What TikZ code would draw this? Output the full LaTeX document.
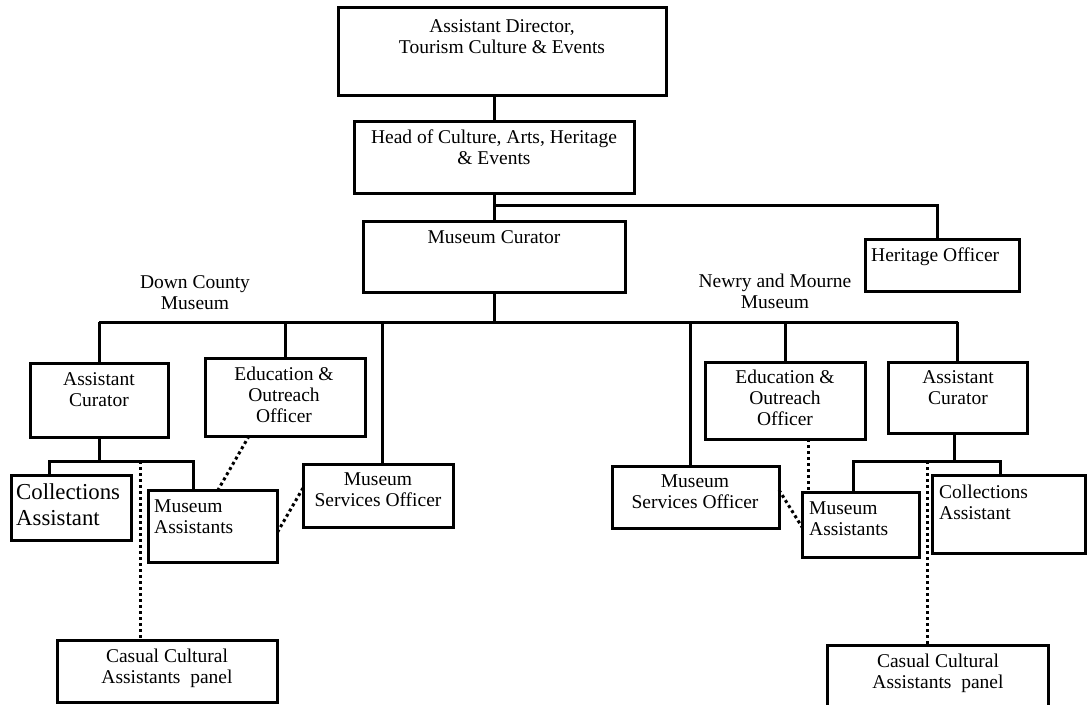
\documentclass[tikz,border=0pt]{standalone}
\usepackage{fontspec}
\setmainfont{Liberation Serif}
\newcommand{\fl}{\rule{0pt}{15pt}}
\newcommand{\flbig}{\rule{0pt}{18pt}}
\begin{document}
\begin{tikzpicture}[x=1pt,y=-1pt,
  box/.style={draw, line width=3pt, inner sep=0pt, outer sep=0pt, anchor=north west},
  conn/.style={line width=3pt},
  dots/.style={line width=3pt, dash pattern=on 3pt off 3pt},
  txt/.style={inner sep=0pt, font=\fontsize{19.5}{21}\selectfont, align=center, anchor=north},
  txtl/.style={inner sep=0pt, font=\fontsize{19.5}{21}\selectfont, align=left, anchor=north west},
  txtbig/.style={inner sep=0pt, font=\fontsize{22.8}{26}\selectfont, align=left, anchor=north west}]
\useasboundingbox (0,0) rectangle (1089,704);
% boxes
\node[box, minimum width=328pt, minimum height=88pt] (top) at (338,7) {};
\node[box, minimum width=280pt, minimum height=72pt] (head) at (354,121) {};
\node[box, minimum width=262pt, minimum height=71pt] (mc) at (363,221) {};
\node[box, minimum width=154pt, minimum height=52pt] (her) at (865,239) {};
\node[box, minimum width=138pt, minimum height=74pt] (acL) at (30,363) {};
\node[box, minimum width=160pt, minimum height=78pt] (eduL) at (205,358) {};
\node[box, minimum width=150pt, minimum height=63pt] (msoL) at (303,464) {};
\node[box, minimum width=120pt, minimum height=65pt] (colL) at (11,475) {};
\node[box, minimum width=129pt, minimum height=72pt] (maL) at (148,490) {};
\node[box, minimum width=220pt, minimum height=62pt] (casL) at (57,640) {};
\node[box, minimum width=160pt, minimum height=77pt] (eduR) at (705,362) {};
\node[box, minimum width=139pt, minimum height=71pt] (acR) at (888,362) {};
\node[box, minimum width=167pt, minimum height=62pt] (msoR) at (612,466) {};
\node[box, minimum width=117pt, minimum height=65pt] (maR) at (802,492) {};
\node[box, minimum width=153pt, minimum height=78pt] (colR) at (932,475) {};
\node[box, minimum width=221pt, minimum height=63pt] (casR) at (827,645) {};
% texts
\node[txt] (topT) at (502,17) {\fl Assistant Director,\\Tourism Culture \& Events};
\node[txt] (headT) at (494,128) {\fl Head of Culture, Arts, Heritage\\\& Events};
\node[txt] (mcT) at (494,228) {\fl Museum Curator};
\node[txtl] (herT) at (871,246) {\fl Heritage Officer};
\node[txt] (dcT) at (195,273) {\fl Down County\\Museum};
\node[txt] (nmT) at (775,272) {\fl Newry and Mourne\\Museum};
\node[txt] (acLT) at (99,370) {\fl Assistant\\Curator};
\node[txt] (eduLT) at (284,365) {\fl Education \&\\Outreach\\Officer};
\node[txt] (msoLT) at (378,470) {\fl Museum\\Services Officer};
\node[txtl] (maLT) at (154,497) {\fl Museum\\Assistants};
\node[txtbig] (colLT) at (16,481) {\flbig Collections\\Assistant};
\node[txt] (casLT) at (167,647) {\fl Casual Cultural\\Assistants\ \ panel};
\node[txt] (eduRT) at (785,368) {\fl Education \&\\Outreach\\Officer};
\node[txt] (acRT) at (958,368) {\fl Assistant\\Curator};
\node[txt] (msoRT) at (695,472) {\fl Museum\\Services Officer};
\node[txtl] (maRT) at (809,499) {\fl Museum\\Assistants};
\node[txtl] (colRT) at (939,483) {\fl Collections\\Assistant};
\node[txt] (casRT) at (938,652) {\fl Casual Cultural\\Assistants\ \ panel};
% coordinates
\coordinate (hj) at (494,205);
\coordinate (bus) at (0,322);
\coordinate (cL) at (49,461);
\coordinate (mL) at (193,461);
\coordinate (dL) at (140,461);
\coordinate (mR) at (853,461);
\coordinate (cR) at (1000,461);
\coordinate (dR) at (927,461);
% solid connectors
\draw[conn] (head.north |- top.south) -- (head.north);
\draw[conn] (head.south) -- (mc.north);
\draw[conn] (hj) -| ([xshift=-5pt]her.north);
\draw[conn] (mc.south) -- (mc.south |- bus);
\draw[conn] (acL.north |- bus) -- (acR.north |- bus);
\foreach \n in {acL,eduL,eduR,acR} \draw[conn] (\n.north |- bus) -- (\n.north);
\draw[conn] ([xshift=4pt]msoL.north |- bus) -- ([xshift=4pt]msoL.north);
\draw[conn] ([xshift=-5.5pt]msoR.north |- bus) -- ([xshift=-5.5pt]msoR.north);
\draw[conn] (acL.south) -- (acL.south |- cL);
\draw[conn] (cL |- colL.north) -- (cL) -- (mL) -- (mL |- maL.north);
\draw[conn] ([xshift=-3pt]acR.south) -- ([xshift=-3pt]acR.south |- cR);
\draw[conn] (mR |- maR.north) -- (mR) -- (cR) -- (cR |- colR.north);
% dotted connectors
\draw[dots] (dL) -- (dL |- casL.north);
\draw[dots] ([xshift=-36pt]eduL.south) -- ([xshift=5.5pt]maL.north);
\draw[dots] ([yshift=7.5pt]msoL.west) -- ([yshift=-7pt]maL.east);
\draw[dots] ([xshift=23pt]eduR.south) -- ([xshift=23pt]eduR.south |- maR.north);
\draw[dots] ([yshift=7pt]msoR.east) -- ([yshift=-2.5pt]maR.west);
\draw[dots] (dR) -- (dR |- casR.north);
\end{tikzpicture}
\end{document}
